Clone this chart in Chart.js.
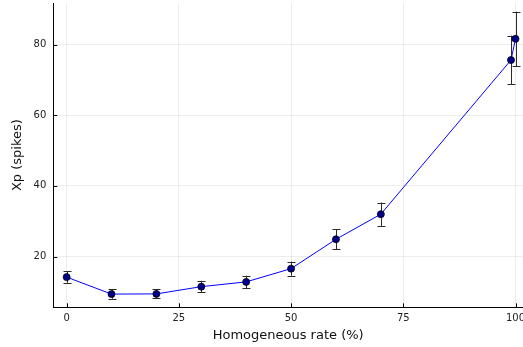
<!DOCTYPE html>
<html>
<head>
<meta charset="utf-8">
<script src="https://cdn.jsdelivr.net/npm/chart.js@4"></script>
<style>
  html, body { margin: 0; padding: 0; background: #fff; overflow: hidden; }
  #wrap { width: 523px; height: 347px; position: relative; }
</style>
</head>
<body>
<div id="wrap"><canvas id="xpChart"></canvas></div>
<script>
// values
const rates = [0, 10, 20, 30, 40, 50, 60, 70, 99, 100];
const xpMeans = [14.2, 9.4, 9.45, 11.5, 12.85, 16.6, 24.9, 32.0, 75.6, 81.6];
const xpErrors = [1.6, 1.3, 1.3, 1.65, 1.75, 2.0, 2.8, 3.3, 6.9, 7.7];
const xTicks = [0, 25, 50, 75, 100];
const yTicks = [20, 40, 60, 80];

const points = rates.map((r, i) => ({ x: r, y: xpMeans[i] }));

// error bars + inward tick marks, drawn with the chart's own scales
const errorBarPlugin = {
  id: 'errorBars',
  beforeDatasetsDraw(chart) {
    const { ctx, scales: { x, y } } = chart;
    ctx.save();
    ctx.strokeStyle = '#2a2a2a';
    ctx.lineWidth = 1;
    const cap = 4;
    rates.forEach((r, i) => {
      const px = Math.round(x.getPixelForValue(r)) + 0.5;
      const top = y.getPixelForValue(xpMeans[i] + xpErrors[i]);
      const bot = y.getPixelForValue(xpMeans[i] - xpErrors[i]);
      ctx.beginPath();
      ctx.moveTo(px, top); ctx.lineTo(px, bot);
      ctx.moveTo(px - cap, Math.round(top) + 0.5); ctx.lineTo(px + cap, Math.round(top) + 0.5);
      ctx.moveTo(px - cap, Math.round(bot) + 0.5); ctx.lineTo(px + cap, Math.round(bot) + 0.5);
      ctx.stroke();
    });
    ctx.restore();
  },
  afterDraw(chart) {
    const { ctx, chartArea: a, scales: { x, y } } = chart;
    ctx.save();
    ctx.strokeStyle = '#000';
    ctx.lineWidth = 1;
    ctx.beginPath();
    xTicks.forEach(t => {
      const px = Math.round(x.getPixelForValue(t)) + 0.5;
      ctx.moveTo(px, a.bottom); ctx.lineTo(px, a.bottom - 4);
    });
    yTicks.forEach(t => {
      const py = Math.round(y.getPixelForValue(t)) + 0.5;
      ctx.moveTo(a.left, py); ctx.lineTo(a.left + 4, py);
    });
    ctx.stroke();
    ctx.restore();
  }
};

const font = 'DejaVu Sans';
const gridColor = 'rgba(0,0,0,0.07)';

new Chart(document.getElementById('xpChart'), {
  type: 'line',
  data: {
    datasets: [{
      data: points,
      borderColor: '#0000ff',
      borderWidth: 1,
      pointBackgroundColor: '#00008b',
      pointBorderColor: '#000',
      pointBorderWidth: 0.8,
      pointRadius: 3.5,
      tension: 0
    }]
  },
  options: {
    responsive: true,
    maintainAspectRatio: false,
    animation: false,
    events: [],
    layout: { autoPadding: false, padding: { top: 3, right: 0, left: 0, bottom: 0 } },
    plugins: { legend: { display: false }, tooltip: { enabled: false } },
    scales: {
      x: {
        type: 'linear',
        min: -2.97,
        max: 101.67,
        afterBuildTicks: s => { s.ticks = xTicks.map(v => ({ value: v })); },
        afterFit: s => { s.height = 39.7; s.paddingLeft = 0; s.paddingRight = 0; },
        grid: { color: gridColor, drawTicks: false },
        border: { display: true, color: '#000', width: 1 },
        ticks: { font: { family: font, size: 10 }, color: '#222', padding: 5, maxRotation: 0 },
        title: { display: true, text: 'Homogeneous rate (%)', font: { family: font, size: 13 }, color: '#111', padding: { top: 0, bottom: 4 } }
      },
      y: {
        min: 5.66,
        max: 91.74,
        afterBuildTicks: s => { s.ticks = yTicks.map(v => ({ value: v })); },
        afterFit: s => { s.width = 53.3; s.paddingTop = 0; s.paddingBottom = 0; },
        grid: { color: gridColor, drawTicks: false },
        border: { display: true, color: '#000', width: 1 },
        ticks: { font: { family: font, size: 10 }, color: '#222', padding: 7 },
        title: { display: true, text: 'Xp (spikes)', font: { family: font, size: 13 }, color: '#111', padding: { top: 10, bottom: 0 } }
      }
    }
  },
  plugins: [errorBarPlugin]
});
</script>
</body>
</html>
